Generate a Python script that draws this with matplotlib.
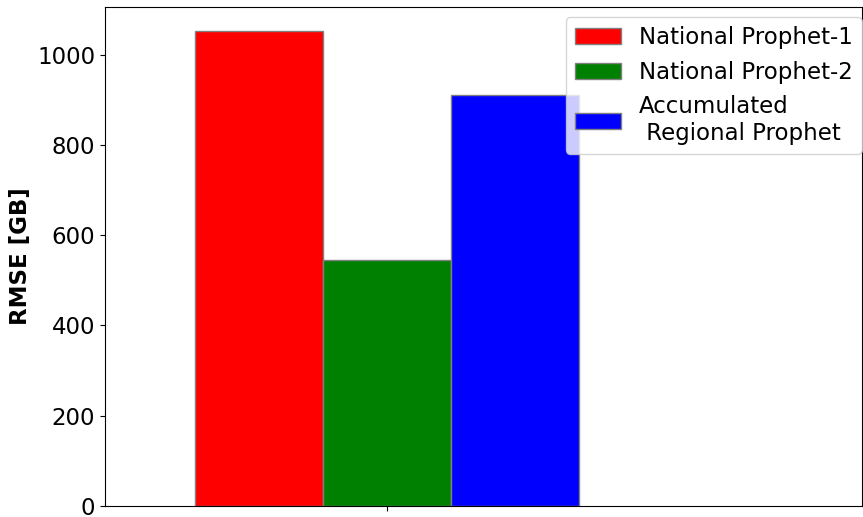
import matplotlib
matplotlib.use('Agg')
import matplotlib.pyplot as plt

labels = ['National Prophet-1', 'National Prophet-2', 'Accumulated\n Regional Prophet']
rmse = [1053, 545, 911]
colors = ['red', 'green', 'blue']

bar_width = 0.25
offsets = [-0.25, 0.0, 0.25]

fig = plt.figure(figsize=(8.63, 5.17), dpi=100)
ax = fig.add_axes([0.1217, 0.0213, 0.877, 0.965])

for off, val, col, lab in zip(offsets, rmse, colors, labels):
    ax.bar([off], [val], width=bar_width, color=col, edgecolor='grey', label=lab)

ax.set_xticks([0])
ax.set_xticklabels([''])
ax.set_xlim(-0.551, 0.928)
ax.set_ylabel('RMSE [GB]', fontsize=16.5, fontweight='bold')
ax.tick_params(axis='y', labelsize=16.5)
ax.legend(loc='upper right', fontsize=16.5, bbox_to_anchor=(1.0, 0.98), borderaxespad=0)

fig.savefig('out.png', dpi=100)
